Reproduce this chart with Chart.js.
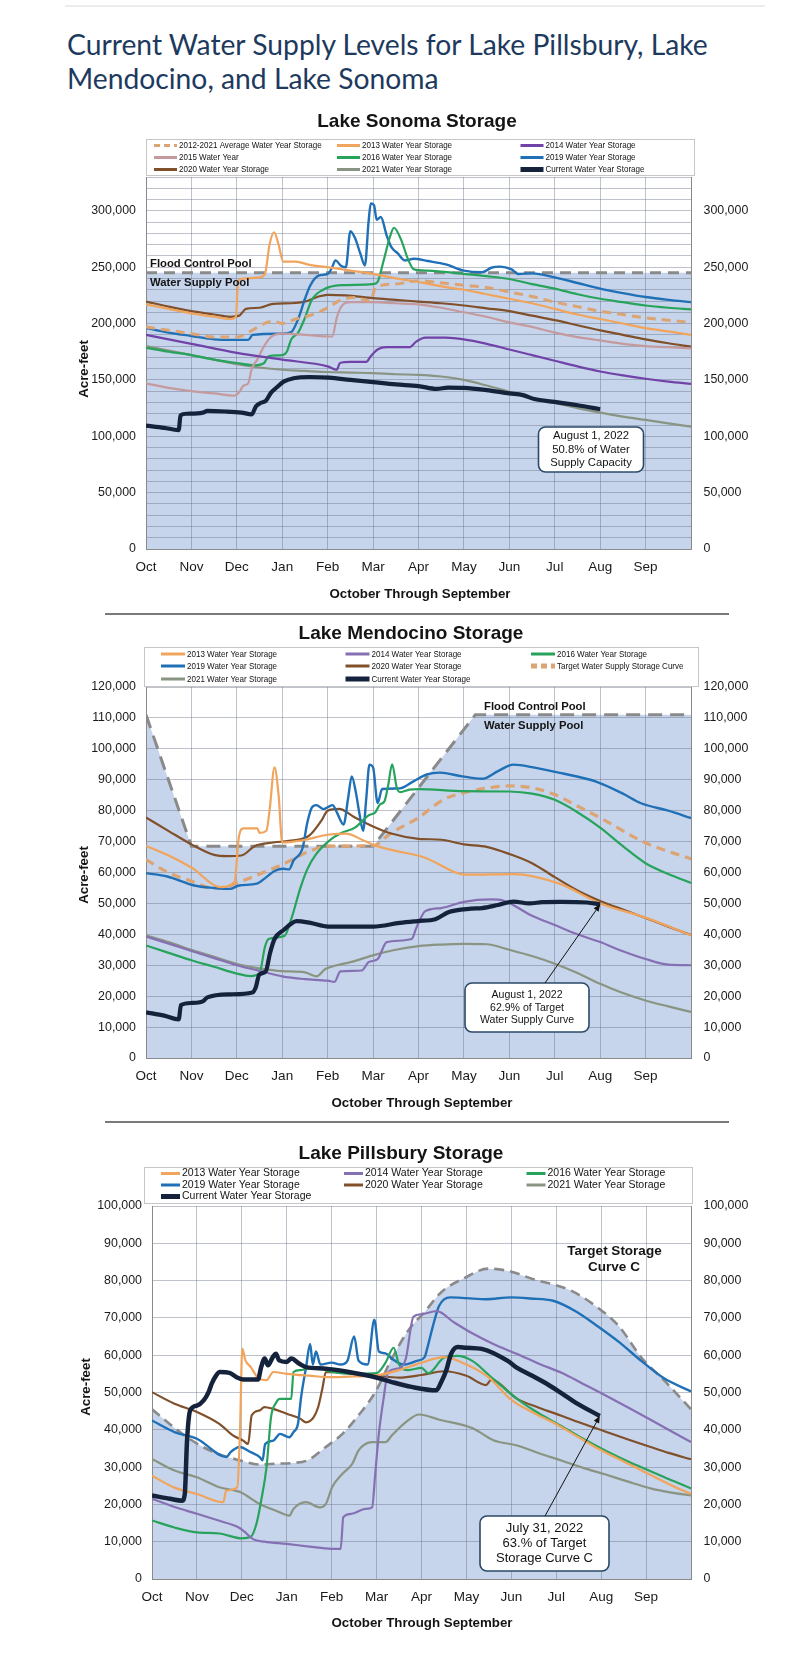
<!DOCTYPE html>
<html>
<head>
<meta charset="utf-8">
<script src="https://cdn.jsdelivr.net/npm/chart.js@4.4.1/dist/chart.umd.min.js"></script>
<style>
  body { margin: 0; background: #fff; width: 785px; height: 1659px; position: relative; overflow: hidden; }
  .rule { position: absolute; }
  h1 { position: absolute; left: 67px; top: 27px; margin: 0; font: 400 28.7px/34px Lato, 'Open Sans', sans-serif;
       color: #1d3a5e; white-space: nowrap; transform-origin: 0 0; }
  canvas { position: absolute; left: 0; }
</style>
</head>
<body>
<div class="rule" style="top:5px;left:65px;width:700px;height:2px;background:#ececec"></div>
<h1 id="head">Current Water Supply Levels for Lake Pillsbury, Lake<br>Mendocino, and Lake Sonoma</h1>
<canvas id="sonoma" width="785" height="510" style="top:95px"></canvas>
<div class="rule" style="top:613px;left:105px;width:624px;height:1.5px;background:#7a7a7a"></div>
<canvas id="mendo" width="785" height="499" style="top:616px"></canvas>
<div class="rule" style="top:1121px;left:105px;width:624px;height:1.5px;background:#7a7a7a"></div>
<canvas id="pills" width="785" height="535" style="top:1124px"></canvas>
<script>
const months = ['Oct', 'Nov', 'Dec', 'Jan', 'Feb', 'Mar', 'Apr', 'May', 'Jun', 'Jul', 'Aug', 'Sep'];

// x = months since Oct 1, y = acre-feet

// ---- Lake Sonoma ----
const sonomaFlood = [[0, 245000], [12, 245000]];
const sonomaAvg = [[0,197000],[0.5,194000],[1,191000],[1.5,188000],[2,188000],[2.3,193000],[2.6,200000],[2.8,202000],[3.0,200000],[3.3,204000],[3.6,207000],[4.0,214000],[4.3,221000],[4.6,223000],[4.95,220000],[5.05,232000],[5.5,235000],[6,238000],[6.5,236000],[7,234000],[7.5,232000],[8,228000],[8.5,224000],[9,219000],[9.5,215000],[10,211000],[10.5,208000],[11,205000],[11.5,203000],[12,201000]];
const sonoma2013 = [[0,217000],[0.5,213000],[1,209000],[1.5,206000],[1.85,204000],[1.98,206000],[2.03,238000],[2.2,240000],[2.5,241000],[2.62,244000],[2.72,270000],[2.82,281000],[2.92,270000],[3.02,255000],[3.3,255000],[3.6,252000],[4,250000],[4.5,247000],[5,244000],[5.5,240000],[6,237000],[6.5,233000],[7,230000],[7.5,226000],[8,222000],[8.5,218000],[9,213000],[9.5,208000],[10,204000],[10.5,200000],[11,196000],[11.5,193000],[12,190000]];
const sonoma2014 = [[0,190000],[1,182000],[2,174000],[3,168000],[4,162000],[4.2,159000],[4.27,165000],[4.5,166000],[4.85,166000],[4.95,171000],[5.1,177000],[5.3,179000],[5.8,179000],[5.95,184000],[6.15,187500],[6.6,187500],[7,186000],[7.5,182000],[8,177000],[8.5,172000],[9,167000],[9.5,162000],[10,157500],[10.5,154000],[11,151000],[11.5,148500],[12,146500]];
const sonoma2015 = [[0,147000],[0.5,143000],[1,140000],[1.5,138000],[1.95,136000],[2.05,139000],[2.15,145000],[2.25,147000],[2.33,160000],[2.45,168000],[2.6,180000],[2.75,188000],[3,191000],[3.5,190000],[4.1,188500],[4.2,205000],[4.3,215000],[4.5,219000],[5,219000],[5.5,218000],[6,217000],[6.5,214000],[7,210000],[7.5,206000],[8,201000],[8.5,197000],[9,192000],[9.5,188000],[10,185000],[10.5,182000],[11,180000],[11.5,179000],[12,178000]];
const sonoma2016 = [[0,178500],[0.5,175000],[1,172000],[1.5,168000],[2,165000],[2.4,163000],[2.6,165000],[2.7,171000],[3,172000],[3.1,175000],[3.2,186000],[3.35,192000],[3.5,205000],[3.65,221000],[3.9,230000],[4.3,234000],[5,235000],[5.1,237000],[5.22,254000],[5.38,278000],[5.46,285000],[5.62,274000],[5.77,257000],[5.9,248000],[6.2,247000],[7,244000],[7.5,242000],[8,239500],[8.5,235000],[9,231000],[9.5,226000],[10,222000],[10.5,219000],[11,216000],[11.5,214000],[12,212500]];
const sonoma2019 = [[0,196000],[0.5,192000],[1,189000],[1.5,186000],[1.9,185500],[2.25,185500],[2.35,190000],[3.0,191000],[3.2,192500],[3.35,204000],[3.5,222000],[3.62,234000],[3.8,242500],[4.0,244000],[4.1,250000],[4.17,256000],[4.3,251000],[4.4,250000],[4.5,282000],[4.6,276000],[4.72,262000],[4.82,251500],[4.9,290000],[4.95,306500],[5.02,305000],[5.08,292000],[5.17,294500],[5.3,278000],[5.4,268000],[5.55,262000],[5.7,256000],[5.9,257500],[6.2,255500],[6.6,252500],[7,247000],[7.4,245500],[7.6,249500],[7.8,250500],[8.05,248000],[8.2,244000],[8.5,244500],[9,241000],[9.5,236000],[10,231000],[10.5,227000],[11,223500],[11.5,221000],[12,219000]];
const sonoma2020 = [[0,219500],[0.5,215000],[1,211000],[1.5,208000],[1.85,206000],[2.05,207000],[2.2,213000],[2.5,214000],[2.8,217500],[3.2,218000],[3.5,219500],[3.8,224000],[4.0,225500],[4.4,225000],[5,222500],[5.5,221000],[6,219500],[6.5,218000],[7,216000],[7.5,213500],[8,211000],[8.5,207000],[9,203000],[9.5,198500],[10,194000],[10.5,190000],[11,186000],[11.5,182500],[12,179500]];
const sonoma2021 = [[0,180000],[0.5,176000],[1,172000],[1.5,168000],[2,164000],[2.5,161000],[3,159000],[3.5,158000],[4,157000],[4.5,156500],[5,156000],[5.5,155000],[6,154500],[6.5,153000],[7,150000],[7.5,145000],[8,139500],[8.5,134000],[9,129500],[9.5,125000],[10,121000],[10.5,117500],[11,114500],[11.5,111500],[12,108500]];
const sonomaCurrent = [[0,109500],[0.4,107500],[0.72,105500],[0.76,118500],[0.9,120000],[1.25,121000],[1.35,122500],[1.75,122000],[2.1,121000],[2.33,119500],[2.42,126500],[2.52,129500],[2.64,131500],[2.75,138500],[2.87,143000],[3.03,148500],[3.25,151500],[3.6,152600],[4.03,152000],[4.5,150000],[5,148000],[5.5,146000],[6,144500],[6.4,142000],[6.65,143200],[7,143000],[7.5,141000],[8,138000],[8.3,136500],[8.55,133000],[9,130500],[9.5,127500],[10,124000]];

// ---- Lake Mendocino ----
const mendoFlood = [[0, 111000], [1, 68500], [5, 68500], [7.25, 111000], [12, 111000]];
const mendoTarget = [[0,64200],[0.5,59900],[1,57200],[1.45,55000],[1.75,55300],[2.05,56900],[2.5,59500],[3,62600],[3.6,66900],[4,68500],[5,68700],[5.4,72800],[6,77700],[6.55,83600],[7,85800],[7.5,87300],[8,88000],[8.5,87400],[9,85200],[9.5,81500],[10,77700],[11,69600],[12,64400]];
const mendo2013 = [[0,68600],[0.5,65500],[1,61600],[1.65,55300],[1.95,57000],[2.05,72000],[2.15,74300],[2.45,74300],[2.5,72800],[2.65,73500],[2.72,80000],[2.83,94000],[2.92,85000],[3.0,69700],[3.4,70300],[4.0,72200],[4.4,72600],[4.8,70300],[5.07,68600],[5.5,67000],[6.1,65000],[7.06,59300],[8.1,59500],[9.1,56400],[10,50000],[11,45400],[12,39700]];
const mendo2014 = [[0,39300],[0.5,37000],[1,34600],[1.5,32300],[2,30000],[2.5,28200],[3,26400],[3.5,25500],[4,25000],[4.15,24600],[4.28,28000],[4.75,28300],[4.9,31000],[5.1,32000],[5.3,37500],[5.85,38500],[5.95,42000],[6.15,47500],[6.5,48500],[7,50500],[7.6,51300],[7.85,51000],[8.5,46000],[9,43000],[9.5,40000],[10,37500],[10.5,34500],[11,32000],[11.5,30200],[12,30000]];
const mendo2016 = [[0,36400],[0.5,34000],[1,31600],[1.5,29500],[2,27300],[2.3,26500],[2.5,27500],[2.62,36000],[2.7,38500],[3.05,39500],[3.2,45000],[3.4,55000],[3.55,61000],[3.75,66000],[4.05,70500],[4.3,72800],[4.6,74500],[4.9,78500],[5.05,79500],[5.15,82000],[5.25,83000],[5.33,88000],[5.42,95000],[5.52,87500],[5.6,86000],[5.8,86800],[6,87000],[7,86300],[8,86200],[8.5,85500],[9,83500],[9.5,79500],[10,74500],[10.5,68500],[11,63000],[11.5,59500],[12,56600]];
const mendo2019 = [[0,59800],[0.47,58700],[1.06,55800],[1.5,55000],[1.85,54700],[2.05,55800],[2.44,56400],[2.65,58500],[2.83,60500],[3.03,61200],[3.15,61000],[3.25,63900],[3.45,68000],[3.55,76000],[3.65,81000],[3.75,81800],[3.91,80500],[4.11,81800],[4.2,79500],[4.35,75500],[4.45,84000],[4.53,91100],[4.62,86000],[4.7,79000],[4.78,73500],[4.85,84000],[4.92,94900],[5.0,94000],[5.1,82500],[5.2,87000],[5.59,87200],[5.88,89400],[6.18,91700],[6.47,92300],[6.96,91100],[7.4,90300],[7.75,92800],[8.09,94900],[8.53,94000],[9.12,92200],[9.91,89400],[10.5,85500],[10.9,82400],[11.5,80000],[12,77600]];
const mendo2020 = [[0,77800],[0.5,73400],[1,69100],[1.5,65700],[1.8,65300],[2.1,65500],[2.4,68600],[2.8,69700],[3.2,70300],[3.6,72000],[3.85,76500],[4.0,80000],[4.25,80600],[4.6,77800],[5,74900],[5.4,72600],[6,70900],[6.5,70600],[7,69100],[7.5,68300],[8,66000],[8.5,63000],[9,58500],[9.5,54200],[10,50800],[10.5,48000],[11,45300],[11.5,42500],[12,39800]];
const mendo2021 = [[0,39700],[0.5,37500],[1,35000],[1.5,32700],[2,30400],[2.5,29000],[3,28100],[3.5,27700],[3.75,26400],[3.95,28800],[4.2,30000],[4.5,31000],[5,33200],[5.5,35000],[6,36200],[6.5,36700],[7,36900],[7.5,36800],[8,35000],[8.5,33000],[9,30500],[9.5,27500],[10,24000],[10.5,21000],[11,18600],[11.5,16700],[12,14900]];
const mendoCurrent = [[0,14800],[0.4,13700],[0.72,12500],[0.77,17100],[1.0,17800],[1.25,18300],[1.35,19600],[1.85,20600],[2.34,21200],[2.42,23000],[2.49,26900],[2.64,28100],[2.73,33900],[2.83,38500],[3.03,41400],[3.32,44300],[3.62,43700],[4.01,42500],[5.0,42500],[5.59,43700],[5.98,44300],[6.37,44900],[6.67,47200],[7.16,48300],[7.4,48500],[7.75,49500],[8.09,50600],[8.44,50000],[8.73,50400],[9.12,50500],[9.71,50300],[10,49700]];

// ---- Lake Pillsbury ----
const pillsTarget = [[0,45500],[0.4,41500],[0.78,38000],[1.37,34000],[1.96,31800],[2.4,30700],[2.76,30900],[3.13,31100],[3.46,31800],[3.87,35400],[4.24,38900],[4.6,43900],[4.97,50100],[5.34,59100],[5.71,66700],[6.07,71600],[6.44,76900],[6.94,80600],[7.49,83200],[8.0,82400],[8.43,80600],[9.33,77300],[9.93,72700],[10.4,67700],[10.9,59300],[11.43,52900],[12,45500]];
const pills2013 = [[0,27700],[0.5,24500],[1,22800],[1.59,20600],[1.65,23700],[1.9,24600],[1.96,40000],[2.01,61800],[2.08,58600],[2.2,56800],[2.35,54100],[2.55,53300],[2.7,55500],[3,55000],[3.5,54500],[4,54100],[4.5,54300],[5,54600],[5.5,56000],[6,58000],[6.5,59500],[7,57500],[7.5,54000],[8,48000],[8.5,44500],[9,41500],[9.5,38000],[10,34500],[10.5,31500],[11,28500],[11.5,25500],[12,22800]];
const pills2014 = [[0,21500],[0.5,19300],[1,17500],[1.5,15600],[1.9,14000],[2.05,12800],[2.25,10700],[2.5,10000],[3,9400],[3.5,8700],[4.0,8100],[4.2,8100],[4.26,16600],[4.45,17500],[4.75,18800],[4.9,19200],[4.97,28200],[5.05,38900],[5.15,47900],[5.26,55500],[5.5,56500],[5.65,59000],[5.82,70300],[6.0,71000],[6.34,71800],[6.7,69000],[7.14,65800],[7.6,63000],[8.13,60300],[8.6,57800],[9.13,55200],[9.6,52300],[10.1,49200],[10.6,46000],[11.1,42700],[11.5,40000],[12,36700]];
const pills2016 = [[0,15700],[0.5,13800],[1,12500],[1.5,12200],[2,10900],[2.2,11300],[2.33,15000],[2.43,21000],[2.55,30000],[2.65,43400],[2.75,47000],[2.85,48300],[3.1,48300],[3.15,55500],[3.3,56000],[3.5,56500],[3.7,56500],[4,55500],[4.5,55000],[5,55200],[5.2,58000],[5.38,62000],[5.5,57500],[5.7,56000],[6.0,56600],[6.15,55200],[6.5,59300],[6.8,59800],[7.14,58400],[7.5,54700],[8.13,48300],[8.6,44500],[9.13,40900],[9.6,37600],[10.1,34400],[10.6,31500],[11.1,28900],[11.5,26800],[12,24300]];
const pills2019 = [[0,42500],[0.5,39400],[1,37600],[1.66,32700],[1.75,34000],[1.95,35400],[2.2,34000],[2.4,32700],[2.46,31800],[2.52,36200],[2.7,37100],[2.85,38900],[3.06,38000],[3.15,39400],[3.25,41600],[3.32,48800],[3.43,56800],[3.52,63000],[3.58,57500],[3.65,61000],[3.75,57500],[4.0,58000],[4.2,57500],[4.35,58500],[4.5,65000],[4.6,58500],[4.8,57500],[4.95,69500],[5.05,61000],[5.2,60500],[5.35,59000],[5.6,57500],[5.9,58500],[6.07,59500],[6.12,61500],[6.25,67600],[6.39,73200],[6.64,75500],[7.0,75300],[7.43,75000],[8.0,75500],[8.43,75200],[8.93,74600],[9.43,71800],[9.93,67700],[10.4,63500],[10.9,58400],[11.4,53800],[12,50300]];
const pills2020 = [[0,50100],[0.5,47000],[1,44800],[1.5,41600],[1.8,38500],[2.03,37100],[2.14,36200],[2.22,43900],[2.4,45200],[2.5,46100],[2.7,45600],[3,44300],[3.3,43000],[3.43,42000],[3.6,43400],[3.7,46100],[3.8,51500],[3.87,55500],[4.5,55000],[5,54500],[5.5,54000],[6,54700],[6.5,55700],[7,54500],[7.44,52000],[7.55,53400],[8.13,48300],[8.6,46000],[9.13,43700],[9.6,41600],[10.1,39500],[10.6,37400],[11.1,35400],[11.5,33800],[12,32100]];
const pills2021 = [[0,32200],[0.5,29100],[1,27300],[1.5,24600],[1.96,23300],[2.4,20100],[2.76,18300],[3.06,17000],[3.15,18800],[3.43,20600],[3.73,19200],[3.87,20100],[4.01,24600],[4.24,28200],[4.46,30900],[4.6,34500],[4.9,36700],[5.2,36700],[5.34,38500],[5.7,42500],[5.94,44100],[6.4,42700],[7.14,40400],[7.6,37200],[8.13,35800],[8.6,33800],[9.13,31700],[9.6,29800],[10.1,28000],[10.6,26100],[11.1,24300],[11.5,23300],[12,22400]];
const pillsCurrent = [[0,22400],[0.4,21500],[0.67,21000],[0.73,22800],[0.78,37100],[0.85,45200],[1.0,46500],[1.15,47900],[1.26,50100],[1.33,52400],[1.43,54600],[1.51,55500],[1.74,55200],[1.88,54100],[2.03,53500],[2.36,53500],[2.43,56800],[2.51,59100],[2.58,57300],[2.69,59500],[2.76,60400],[2.83,58600],[3.0,58200],[3.1,59100],[3.28,57700],[3.43,56800],[3.87,56400],[4.38,55500],[4.97,54100],[5.34,52800],[5.78,51500],[6.33,50600],[6.44,52800],[6.55,55900],[6.66,60400],[6.81,62200],[7.0,62000],[7.34,61700],[7.93,58400],[8.13,56600],[8.43,54700],[8.78,52400],[9.13,49700],[9.43,47300],[9.97,43700]];

// ---- shared styling ----
const FONT = "'Liberation Sans', Arial, sans-serif";
Chart.defaults.font.family = FONT;
Chart.defaults.color = '#1a1a1a';
const GRID = 'rgba(100,110,130,0.42)';
const POOL = '#c6d5eb';
const C = {
  avg: '#dca373', y2013: '#f0a45c', y2014: '#7142a8', y2014b: '#8670b4', y2015: '#c49a9e',
  y2016: '#27a35c', y2019: '#1f70b6', y2020: '#80502b', y2021: '#8a9482', now: '#15223b', flood: '#8a8a8a'
};

const pts = a => a.map(([x, y]) => ({ x, y }));

function series(label, data, color, width, dash, order) {
  return { label, data: pts(data), borderColor: color, backgroundColor: color, borderWidth: width,
    borderDash: dash || [], pointRadius: 0, fill: false, cubicInterpolationMode: 'monotone', order: order || 0 };
}
function pool(data, dash, width, smooth) {
  return { label: '', data: pts(data), borderColor: C.flood, borderWidth: width, borderDash: dash,
    pointRadius: 0, fill: 'origin', backgroundColor: POOL, tension: 0,
    cubicInterpolationMode: smooth ? 'monotone' : 'default', order: 3 };
}

function write(ctx, s, x, y, font, align, sx) {
  ctx.save();
  ctx.translate(x, y);
  ctx.scale(sx || 1, 1);
  ctx.font = font;
  ctx.fillStyle = '#141414';
  ctx.textAlign = align || 'left';
  ctx.textBaseline = 'middle';
  ctx.fillText(s, 0, 0);
  ctx.restore();
}
function arrow(ctx, x0, y0, x1, y1) {
  const a = Math.atan2(y1 - y0, x1 - x0), h = 7, w = 3;
  const bx = x1 - h * Math.cos(a), by = y1 - h * Math.sin(a);
  ctx.strokeStyle = '#111'; ctx.fillStyle = '#111'; ctx.lineWidth = 1;
  ctx.beginPath(); ctx.moveTo(x0, y0); ctx.lineTo(bx, by); ctx.stroke();
  ctx.beginPath(); ctx.moveTo(x1, y1);
  ctx.lineTo(bx + w * Math.sin(a), by - w * Math.cos(a));
  ctx.lineTo(bx - w * Math.sin(a), by + w * Math.cos(a));
  ctx.closePath(); ctx.fill();
}

// titles, legend box, labels, callouts
const decor = {
  id: 'decor',
  afterDraw(chart, args, o) {
    const ctx = chart.ctx, sx = chart.scales.x, sy = chart.scales.y;
    write(ctx, o.title[0], o.title[1], o.title[2], 'bold 19px ' + FONT, 'center');
    write(ctx, 'October Through September', o.xTitle[0], o.xTitle[1], 'bold 13.3px ' + FONT, 'center');
    ctx.save();
    ctx.translate(o.yTitle[0], o.yTitle[1]);
    ctx.rotate(-Math.PI / 2);
    write(ctx, 'Acre-feet', 0, 0, 'bold 13.3px ' + FONT, 'center');
    ctx.restore();

    const L = o.legend;
    ctx.fillStyle = '#fff';
    ctx.fillRect(L.box[0], L.box[1], L.box[2], L.box[3]);
    ctx.strokeStyle = '#c6c6c6'; ctx.lineWidth = 1;
    ctx.strokeRect(L.box[0] + 0.5, L.box[1] + 0.5, L.box[2], L.box[3]);
    chart.data.datasets.filter(d => d.label).forEach((d, i) => {
      const x0 = L.cols[i % 3], y0 = L.rows[Math.floor(i / 3)];
      ctx.beginPath(); ctx.moveTo(x0, y0); ctx.lineTo(x0 + L.len, y0);
      ctx.strokeStyle = d.borderColor; ctx.lineWidth = d.borderWidth > 3 ? 5 : 3;
      ctx.setLineDash(d.borderDash.length ? [6, 4] : []);
      ctx.stroke(); ctx.setLineDash([]);
      write(ctx, d.label, x0 + L.len + 2, y0, L.font, 'left', L.sx);
    });

    (o.notes || []).forEach(n => write(ctx, n.text, n.x, n.y, n.font, n.align || 'left'));

    (o.boxes || []).forEach(b => {
      ctx.beginPath();
      ctx.roundRect(b.cx - b.w / 2, b.cy - b.h / 2, b.w, b.h, 7);
      ctx.fillStyle = '#fff'; ctx.fill();
      ctx.strokeStyle = '#2c4869'; ctx.lineWidth = 1.6; ctx.stroke();
      b.lines.forEach((s, i) => write(ctx, s, b.cx, b.cy + (i - (b.lines.length - 1) / 2) * b.lh, b.font, 'center', b.sx));
    });

    (o.arrows || []).forEach(a => {
      const tx = a.at ? sx.getPixelForValue(a.at[0]) : a.to[0];
      const ty = a.at ? sy.getPixelForValue(a.at[1]) : a.to[1];
      arrow(ctx, a.from[0], a.from[1], tx, ty);
    });
  }
};

function scales(max, every, o) {
  const fmt = v => (v % every === 0 ? v.toLocaleString('en-US') : '');
  const yTicks = pad => ({ stepSize: 10000, autoSkip: false, padding: pad, font: { size: 12.4 }, callback: fmt });
  return {
    x: {
      type: 'linear', min: 0, max: 12,
      ticks: { stepSize: 1, autoSkip: false, maxRotation: 0, padding: 10, font: { size: 13.5 },
        callback: v => months[v] || '' },
      grid: { color: GRID, drawTicks: false },
      border: { color: '#8a8a8a' },
      afterFit: s => { s.height = o.xh; }
    },
    y: {
      type: 'linear', position: 'left', min: 0, max,
      ticks: yTicks(10),
      grid: { color: GRID, drawTicks: false },
      border: { color: '#8a8a8a' },
      afterFit: s => { s.width = o.left; }
    },
    y2: {
      type: 'linear', position: 'right', min: 0, max,
      ticks: yTicks(12.5),
      grid: { display: false, drawTicks: false },
      border: { color: '#8a8a8a' },
      afterFit: s => { s.width = o.right; }
    }
  };
}

function make(id, datasets, sc, top, decorOpts) {
  return new Chart(document.getElementById(id), {
    type: 'line',
    data: { datasets },
    options: {
      responsive: false, animation: false, events: [],
      layout: { padding: { top, left: 0, right: 0, bottom: 0 } },
      scales: sc,
      plugins: { legend: { display: false }, tooltip: { enabled: false }, filler: { drawTime: 'beforeDraw' }, decor: decorOpts }
    },
    plugins: [decor]
  });
}

const legendFont = '9.8px ' + FONT;

make('sonoma', [
  series('2012-2021 Average Water Year Storage', sonomaAvg, C.avg, 3, [9, 6]),
  series('2013 Water Year Storage', sonoma2013, C.y2013, 2.2),
  series('2014 Water Year Storage', sonoma2014, C.y2014, 2.2),
  series('2015 Water Year', sonoma2015, C.y2015, 2.2),
  series('2016 Water Year Storage', sonoma2016, C.y2016, 2.2),
  series('2019 Water Year Storage', sonoma2019, C.y2019, 2.4),
  series('2020 Water Year Storage', sonoma2020, C.y2020, 2.2),
  series('2021 Water Year Storage', sonoma2021, C.y2021, 2.2),
  series('Current Water Year Storage', sonomaCurrent, C.now, 4.2, null, -1),
  pool(sonomaFlood, [11, 7], 3)
], scales(330000, 50000, { xh: 56, left: 146, right: 94 }), 82, {
  title: ['Lake Sonoma Storage', 417, 27],
  xTitle: [420, 499], yTitle: [84, 274],
  legend: { box: [146, 44, 548, 36], rows: [50.5, 62.5, 74.5], cols: [154, 337, 520.5], len: 23, font: legendFont, sx: 0.82 },
  notes: [
    { text: 'Flood Control Pool', x: 150, y: 168.5, font: 'bold 11.3px ' + FONT },
    { text: 'Water Supply Pool', x: 150, y: 188, font: 'bold 11.3px ' + FONT }
  ],
  boxes: [{ cx: 591, cy: 354.5, w: 105, h: 45, lh: 13.3, font: '11.3px ' + FONT, sx: 1,
    lines: ['August 1, 2022', '50.8% of Water', 'Supply Capacity'] }]
});

make('mendo', [
  series('2013 Water Year Storage', mendo2013, C.y2013, 2.2),
  series('2014 Water Year Storage', mendo2014, C.y2014b, 2.2),
  series('2016 Water Year Storage', mendo2016, C.y2016, 2.2),
  series('2019 Water Year Storage', mendo2019, C.y2019, 2.4),
  series('2020 Water Year Storage', mendo2020, C.y2020, 2.2),
  series('Target Water Supply Storage Curve', mendoTarget, C.avg, 3.2, [9, 6]),
  series('2021 Water Year Storage', mendo2021, C.y2021, 2.2),
  series('Current Water Year Storage', mendoCurrent, C.now, 4.2, null, -1),
  pool(mendoFlood, [14, 8], 3)
], scales(120000, 10000, { xh: 57, left: 146, right: 94 }), 71, {
  title: ['Lake Mendocino Storage', 411, 18],
  xTitle: [422, 487], yTitle: [84, 259],
  legend: { box: [144, 31, 554, 39], rows: [38, 50, 63], cols: [161, 345.5, 531], len: 24, font: legendFont, sx: 0.82 },
  notes: [
    { text: 'Flood Control Pool', x: 484, y: 90.5, font: 'bold 11.3px ' + FONT },
    { text: 'Water Supply Pool', x: 484, y: 109.5, font: 'bold 11.3px ' + FONT }
  ],
  boxes: [{ cx: 527, cy: 391.5, w: 124, h: 49, lh: 12.9, font: '11px ' + FONT, sx: 0.96,
    lines: ['August 1, 2022', '62.9% of Target', 'Water Supply Curve'] }],
  arrows: [{ from: [545, 367], at: [10, 49700] }]
});

make('pills', [
  series('2013 Water Year Storage', pills2013, C.y2013, 2.2),
  series('2014 Water Year Storage', pills2014, C.y2014b, 2.2),
  series('2016 Water Year Storage', pills2016, C.y2016, 2.2),
  series('2019 Water Year Storage', pills2019, C.y2019, 2.4),
  series('2020 Water Year Storage', pills2020, C.y2020, 2.2),
  series('2021 Water Year Storage', pills2021, C.y2021, 2.2),
  series('Current Water Year Storage', pillsCurrent, C.now, 4.5, null, -1),
  pool(pillsTarget, [10, 6], 2.6, true)
], scales(100000, 10000, { xh: 80, left: 152, right: 94 }), 82, {
  title: ['Lake Pillsbury Storage', 401, 29.5],
  xTitle: [422, 499], yTitle: [86, 263],
  legend: { box: [144, 43, 548, 36], rows: [49.5, 61, 72.5], cols: [161, 344, 526.5], len: 19, font: '10.5px ' + FONT, sx: 1 },
  notes: [
    { text: 'Target Storage', x: 614.5, y: 127, font: 'bold 13.5px ' + FONT, align: 'center' },
    { text: 'Curve C', x: 614, y: 143.5, font: 'bold 13.5px ' + FONT, align: 'center' }
  ],
  boxes: [{ cx: 544.5, cy: 419.5, w: 129, h: 55, lh: 15, font: '13px ' + FONT, sx: 1,
    lines: ['July 31, 2022', '63.% of Target', 'Storage Curve C'] }],
  arrows: [
    { from: [578, 140], to: [571, 166.5] },
    { from: [545, 392], at: [9.97, 43700] }
  ]
});

// fit page heading width to the reference line length
(function () {
  const h = document.getElementById('head');
  const c = document.createElement('canvas').getContext('2d');
  c.font = '400 28.7px Lato';
  const w = c.measureText('Current Water Supply Levels for Lake Pillsbury, Lake').width;
  h.style.transform = 'scaleX(' + (643 / w).toFixed(4) + ')';
})();
</script>
</body>
</html>
